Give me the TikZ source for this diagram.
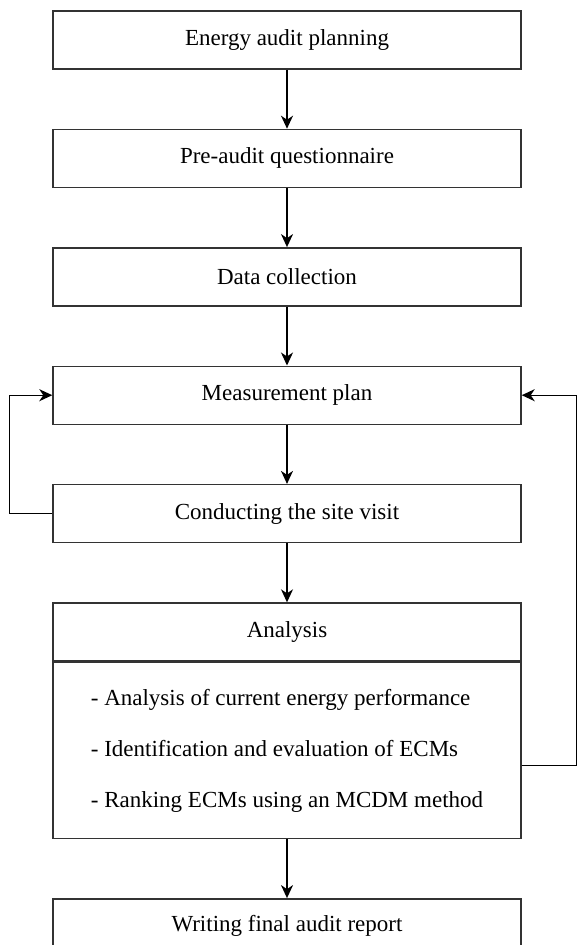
\documentclass[tikz,border=0pt]{standalone}
\usepackage{fontspec}
\setmainfont{Liberation Serif}
\usetikzlibrary{arrows.meta,positioning}

\begin{document}
\begin{tikzpicture}
[x=1pt,y=1pt,
node distance=59pt,
every node/.style={font=\fontsize{23}{51}\selectfont},
stage/.style={draw=black!80,rectangle,line width=1.4pt,minimum width=468pt,minimum height=58pt,inner sep=0pt},
flow/.style={draw=black,line width=1.4pt,-{Stealth[length=13pt,width=12pt,inset=4pt]}}]
\useasboundingbox (0,0) rectangle (576,-945);
\node[stage] (plan) at (287,-40) {Energy audit planning};
\node[stage,below=of plan] (quest) {Pre-audit questionnaire};
\node[stage,below=of quest] (data) {Data collection};
\node[stage,below=of data] (meas) {Measurement plan};
\node[stage,below=of meas] (visit) {Conducting the site visit};
\node[stage,below=of visit] (anhead) {Analysis};
\node[stage,below=0pt of anhead,minimum height=176pt,align=left] (anbody)
{- Analysis of current energy performance\\
- Identification and evaluation of ECMs\\
- Ranking ECMs using an MCDM method};
\node[stage,below=of anbody,minimum height=55pt] (report) {Writing final audit report};
% main flow
\draw[flow] (plan) -- (quest);
\draw[flow] (quest) -- (data);
\draw[flow] (data) -- (meas);
\draw[flow] (meas) -- (visit);
\draw[flow] (visit) -- (anhead);
\draw[flow] (anbody) -- (report);
% feedback loops
\draw[flow] (visit.west) -- ++(-43,0) |- (meas.west);
\draw[flow] ([yshift=-15pt]anbody.east) -- ++(55,0) |- (meas.east);
\end{tikzpicture}
\end{document}
